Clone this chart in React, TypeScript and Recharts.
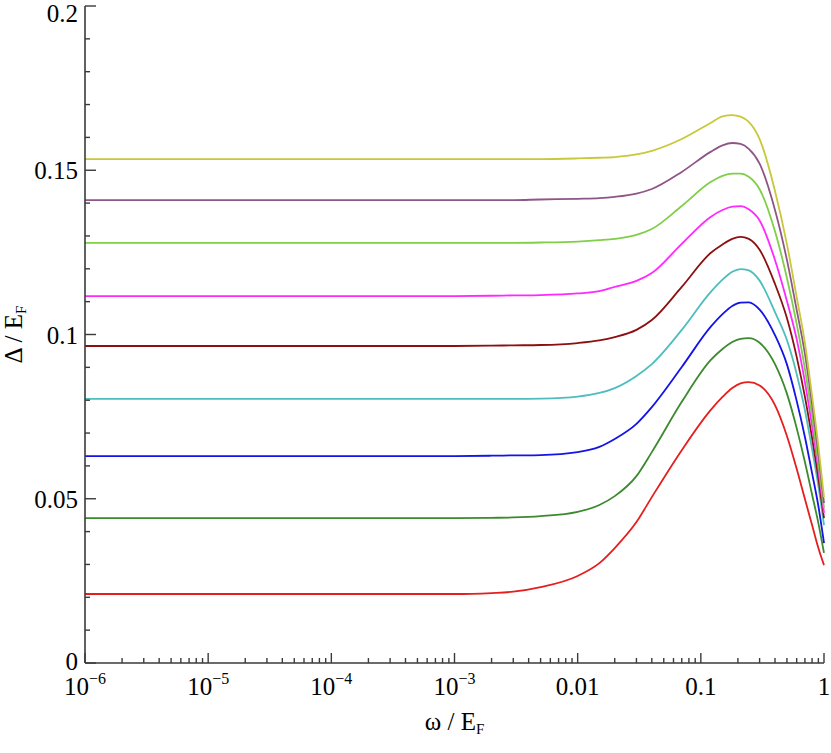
import { LineChart, Line, XAxis, YAxis } from 'recharts';

// omega / E_F sample points (log axis)
const omega = [
  1e-6, 1e-4, 1e-3, 2e-3, 3e-3, 5e-3, 0.01, 0.015, 0.02, 0.03, 0.04, 0.07, 0.12,
  0.15, 0.18, 0.21, 0.245, 0.3, 0.4, 0.5, 0.6, 0.7, 0.8, 0.9, 1,
];

const gapRed = [
  0.0210, 0.0210, 0.0210, 0.0213, 0.0217, 0.0231, 0.0265, 0.0304, 0.0350, 0.0429, 0.0505, 0.0648, 0.0770,
  0.0810, 0.0837, 0.0851, 0.0855, 0.0845, 0.0785, 0.0691, 0.0591, 0.0499, 0.0420, 0.0350, 0.0298,
];
const gapGreen = [
  0.0441, 0.0441, 0.0441, 0.0442, 0.0443, 0.0447, 0.0460, 0.0481, 0.0508, 0.0569, 0.0642, 0.0795, 0.0922,
  0.0956, 0.0977, 0.0987, 0.0989, 0.0975, 0.0910, 0.0820, 0.0715, 0.0612, 0.0513, 0.0426, 0.0335,
];
const gapBlue = [
  0.0630, 0.0630, 0.0630, 0.0631, 0.0632, 0.0633, 0.0642, 0.0658, 0.0682, 0.0728, 0.0779, 0.0901, 0.1023,
  0.1062, 0.1087, 0.1097, 0.1098, 0.1076, 0.0998, 0.0909, 0.0798, 0.0688, 0.0578, 0.0478, 0.0365,
];
const gapCyan = [
  0.0804, 0.0804, 0.0804, 0.0804, 0.0804, 0.0805, 0.0811, 0.0822, 0.0837, 0.0874, 0.0910, 0.1014, 0.1129,
  0.1167, 0.1191, 0.1199, 0.1195, 0.1164, 0.1068, 0.0983, 0.0880, 0.0770, 0.0651, 0.0539, 0.0420,
];
const gapDarkRed = [
  0.0965, 0.0965, 0.0965, 0.0966, 0.0967, 0.0968, 0.0974, 0.0982, 0.0992, 0.1014, 0.1044, 0.1145, 0.1248,
  0.1274, 0.1291, 0.1297, 0.1291, 0.1258, 0.1154, 0.1050, 0.0932, 0.0810, 0.0685, 0.0563, 0.0441,
];
const gapMagenta = [
  0.1117, 0.1117, 0.1117, 0.1118, 0.1119, 0.1120, 0.1125, 0.1132, 0.1145, 0.1163, 0.1187, 0.1276, 0.1358,
  0.1379, 0.1389, 0.1391, 0.1381, 0.1347, 0.1227, 0.1102, 0.0986, 0.0855, 0.0721, 0.0591, 0.0457,
];
const gapLightGreen = [
  0.1279, 0.1279, 0.1279, 0.1279, 0.1279, 0.1280, 0.1283, 0.1287, 0.1291, 0.1303, 0.1321, 0.1391, 0.1464,
  0.1483, 0.1490, 0.1490, 0.1480, 0.1442, 0.1314, 0.1172, 0.1032, 0.0895, 0.0752, 0.0609, 0.0472,
];
const gapPurple = [
  0.1409, 0.1409, 0.1409, 0.1409, 0.1409, 0.1411, 0.1413, 0.1415, 0.1419, 0.1429, 0.1443, 0.1495, 0.1556,
  0.1576, 0.1583, 0.1580, 0.1565, 0.1520, 0.1379, 0.1227, 0.1075, 0.0941, 0.0788, 0.0639, 0.0487,
];
const gapYellow = [
  0.1534, 0.1534, 0.1534, 0.1534, 0.1534, 0.1534, 0.1536, 0.1538, 0.1540, 0.1548, 0.1559, 0.1595, 0.1644,
  0.1664, 0.1668, 0.1663, 0.1647, 0.1595, 0.1437, 0.1275, 0.1114, 0.0974, 0.0813, 0.0661, 0.0505,
];

const series = [
  { key: 'red', values: gapRed, color: '#e61e1e' },
  { key: 'green', values: gapGreen, color: '#3c8a2e' },
  { key: 'blue', values: gapBlue, color: '#1414e6' },
  { key: 'cyan', values: gapCyan, color: '#4dbdbd' },
  { key: 'darkred', values: gapDarkRed, color: '#8c1010' },
  { key: 'magenta', values: gapMagenta, color: '#ff28ff' },
  { key: 'lightgreen', values: gapLightGreen, color: '#80cf48' },
  { key: 'purple', values: gapPurple, color: '#8e5687' },
  { key: 'yellow', values: gapYellow, color: '#c9c83a' },
];

const xMajor = [1e-6, 1e-5, 1e-4, 1e-3, 0.01, 0.1, 1];
const xTickText = ['10', '10', '10', '10', '0.01', '0.1', '1'];
const xTickExp = ['−6', '−5', '−4', '−3', '', '', ''];
const yMajor = [0, 0.05, 0.1, 0.15, 0.2];
const yTickText = ['0', '0.05', '0.1', '0.15', '0.2'];

const rows = omega.map((w, i) => {
  const row: Record<string, number> = { w };
  series.forEach((s) => (row[s.key] = s.values[i]));
  return row;
});

// minor ticks: 2..9 in every decade, 0.01 steps on y
const xTicks: number[] = [];
for (let e = -6; e < 0; e++) {
  for (let m = 1; m < 10; m++) xTicks.push(Number((m * Math.pow(10, e)).toPrecision(3)));
}
xTicks.push(1);
const yTicks: number[] = [];
for (let i = 0; i <= 20; i++) yTicks.push(Number((i * 0.01).toFixed(2)));

const FONT = '"Liberation Serif", "Times New Roman", serif';
const AXIS = '#3a3a3a';

const isNear = (list: number[], v: number) => list.findIndex((m) => Math.abs(m - v) < 1e-12 + m * 1e-6);

function XTick(props: any) {
  const { x, y, payload, top } = props;
  const idx = isNear(xMajor, payload.value);
  const len = idx >= 0 ? 10 : 5;
  const dir = top ? 1 : -1;
  return (
    <g>
      <line x1={x} y1={y} x2={x} y2={y + dir * len} stroke={AXIS} strokeWidth={1.4} />
      {!top && idx >= 0 && (
        <text x={x} y={y + 32} textAnchor="middle" fontFamily={FONT} fontSize={25} fill="#000">
          {xTickText[idx]}
          {xTickExp[idx] && (
            <tspan fontSize={16} dy={-11}>
              {xTickExp[idx]}
            </tspan>
          )}
        </text>
      )}
    </g>
  );
}

function YTick(props: any) {
  const { x, y, payload, right } = props;
  const idx = isNear(yMajor, payload.value);
  const len = idx >= 0 ? 11 : 5;
  const dir = right ? -1 : 1;
  const base = idx === 0 ? y + 7 : Math.max(y + 9, 22);
  return (
    <g>
      <line x1={x} y1={y} x2={x + dir * len} y2={y} stroke={AXIS} strokeWidth={1.4} />
      {!right && idx >= 0 && (
        <text x={x - 7} y={base} textAnchor="end" fontFamily={FONT} fontSize={25} fill="#000">
          {yTickText[idx]}
        </text>
      )}
    </g>
  );
}

function XTitle(props: any) {
  const vb = props.viewBox;
  return (
    <text x={vb.x + vb.width / 2} y={vb.y + 67} textAnchor="middle" fontFamily={FONT} fontSize={25} fill="#000">
      ω / E
      <tspan fontSize={15} dy={4}>
        F
      </tspan>
    </text>
  );
}

function YTitle(props: any) {
  const vb = props.viewBox;
  const cx = 22;
  const cy = vb.y + vb.height / 2;
  return (
    <text
      x={cx}
      y={cy}
      transform={`rotate(-90 ${cx} ${cy})`}
      textAnchor="middle"
      fontFamily={FONT}
      fontSize={25}
      fill="#000"
    >
      Δ / E
      <tspan fontSize={15} dy={4}>
        F
      </tspan>
    </text>
  );
}

export default function App() {
  return (
    <div style={{ position: 'absolute', left: 0, top: 0, background: '#fff' }}>
      <LineChart width={831} height={753} data={rows} margin={{ top: 6, right: 7, left: 0, bottom: 0 }}>
        <XAxis
          dataKey="w"
          type="number"
          scale="log"
          domain={[1e-6, 1]}
          ticks={xTicks}
          interval={0}
          height={90}
          tickSize={0}
          tickMargin={0}
          tickLine={false}
          axisLine={{ stroke: AXIS, strokeWidth: 1.6 }}
          tick={<XTick />}
          label={{ content: <XTitle /> } as any}
        />
        <XAxis
          xAxisId="top"
          orientation="top"
          dataKey="w"
          type="number"
          scale="log"
          domain={[1e-6, 1]}
          ticks={xTicks}
          interval={0}
          height={0}
          tickSize={0}
          tickMargin={0}
          tickLine={false}
          axisLine={{ stroke: AXIS, strokeWidth: 1.6 }}
          tick={<XTick top />}
        />
        <YAxis
          type="number"
          domain={[0, 0.2]}
          ticks={yTicks}
          interval={0}
          width={85}
          tickSize={0}
          tickMargin={0}
          tickLine={false}
          axisLine={{ stroke: AXIS, strokeWidth: 1.6 }}
          tick={<YTick />}
          label={{ content: <YTitle /> } as any}
        />
        <YAxis
          yAxisId="right"
          orientation="right"
          type="number"
          domain={[0, 0.2]}
          ticks={yTicks}
          interval={0}
          width={0}
          tickSize={0}
          tickMargin={0}
          tickLine={false}
          axisLine={{ stroke: AXIS, strokeWidth: 1.6 }}
          tick={<YTick right />}
        />
        {series.map((s) => (
          <Line
            key={s.key}
            dataKey={s.key}
            type="monotone"
            stroke={s.color}
            strokeWidth={1.8}
            dot={false}
            isAnimationActive={false}
          />
        ))}
      </LineChart>
    </div>
  );
}
